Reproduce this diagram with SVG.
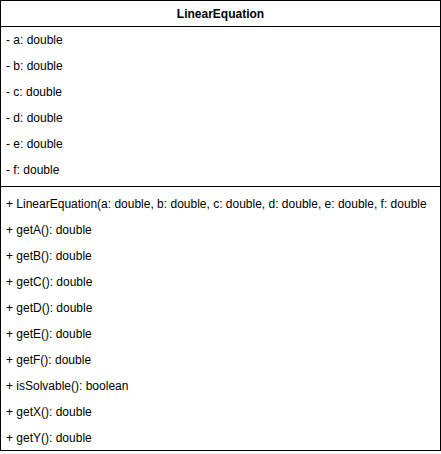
<svg xmlns="http://www.w3.org/2000/svg" width="441" height="454" viewBox="0 0 441 454">
  <style>
    .box { fill: #ffffff; stroke: #000000; stroke-width: 1; }
    .sep { stroke: #000000; stroke-width: 1; fill: none; }
    .title { font-family: "Liberation Sans", Arial, sans-serif; font-size: 12px; font-weight: bold; fill: #000000; text-anchor: middle; }
    .member { font-family: "Liberation Sans", Arial, sans-serif; font-size: 12px; fill: #000000; }
  </style>
  <rect width="441" height="454" fill="#ffffff"/>
  <g id="LinearEquation">
    <rect class="box" x="0.5" y="0.5" width="440" height="450"/>
    <text class="title" x="220.5" y="17.5">LinearEquation</text>
    <line class="sep" x1="0.5" y1="26.5" x2="440.5" y2="26.5"/>
    <g id="attributes">
      <text class="member" x="6" y="44">- a: double</text>
      <text class="member" x="6" y="70">- b: double</text>
      <text class="member" x="6" y="96">- c: double</text>
      <text class="member" x="6" y="122">- d: double</text>
      <text class="member" x="6" y="148">- e: double</text>
      <text class="member" x="6" y="174">- f: double</text>
    </g>
    <line class="sep" x1="0.5" y1="186.5" x2="440.5" y2="186.5"/>
    <g id="operations">
      <text class="member" x="6" y="208">+ LinearEquation(a: double, b: double, c: double, d: double, e: double, f: double</text>
      <text class="member" x="6" y="234">+ getA(): double</text>
      <text class="member" x="6" y="260">+ getB(): double</text>
      <text class="member" x="6" y="286">+ getC(): double</text>
      <text class="member" x="6" y="312">+ getD(): double</text>
      <text class="member" x="6" y="338">+ getE(): double</text>
      <text class="member" x="6" y="364">+ getF(): double</text>
      <text class="member" x="6" y="390">+ isSolvable(): boolean</text>
      <text class="member" x="6" y="416">+ getX(): double</text>
      <text class="member" x="6" y="442">+ getY(): double</text>
    </g>
  </g>
  <g id="connectors"/>
</svg>
